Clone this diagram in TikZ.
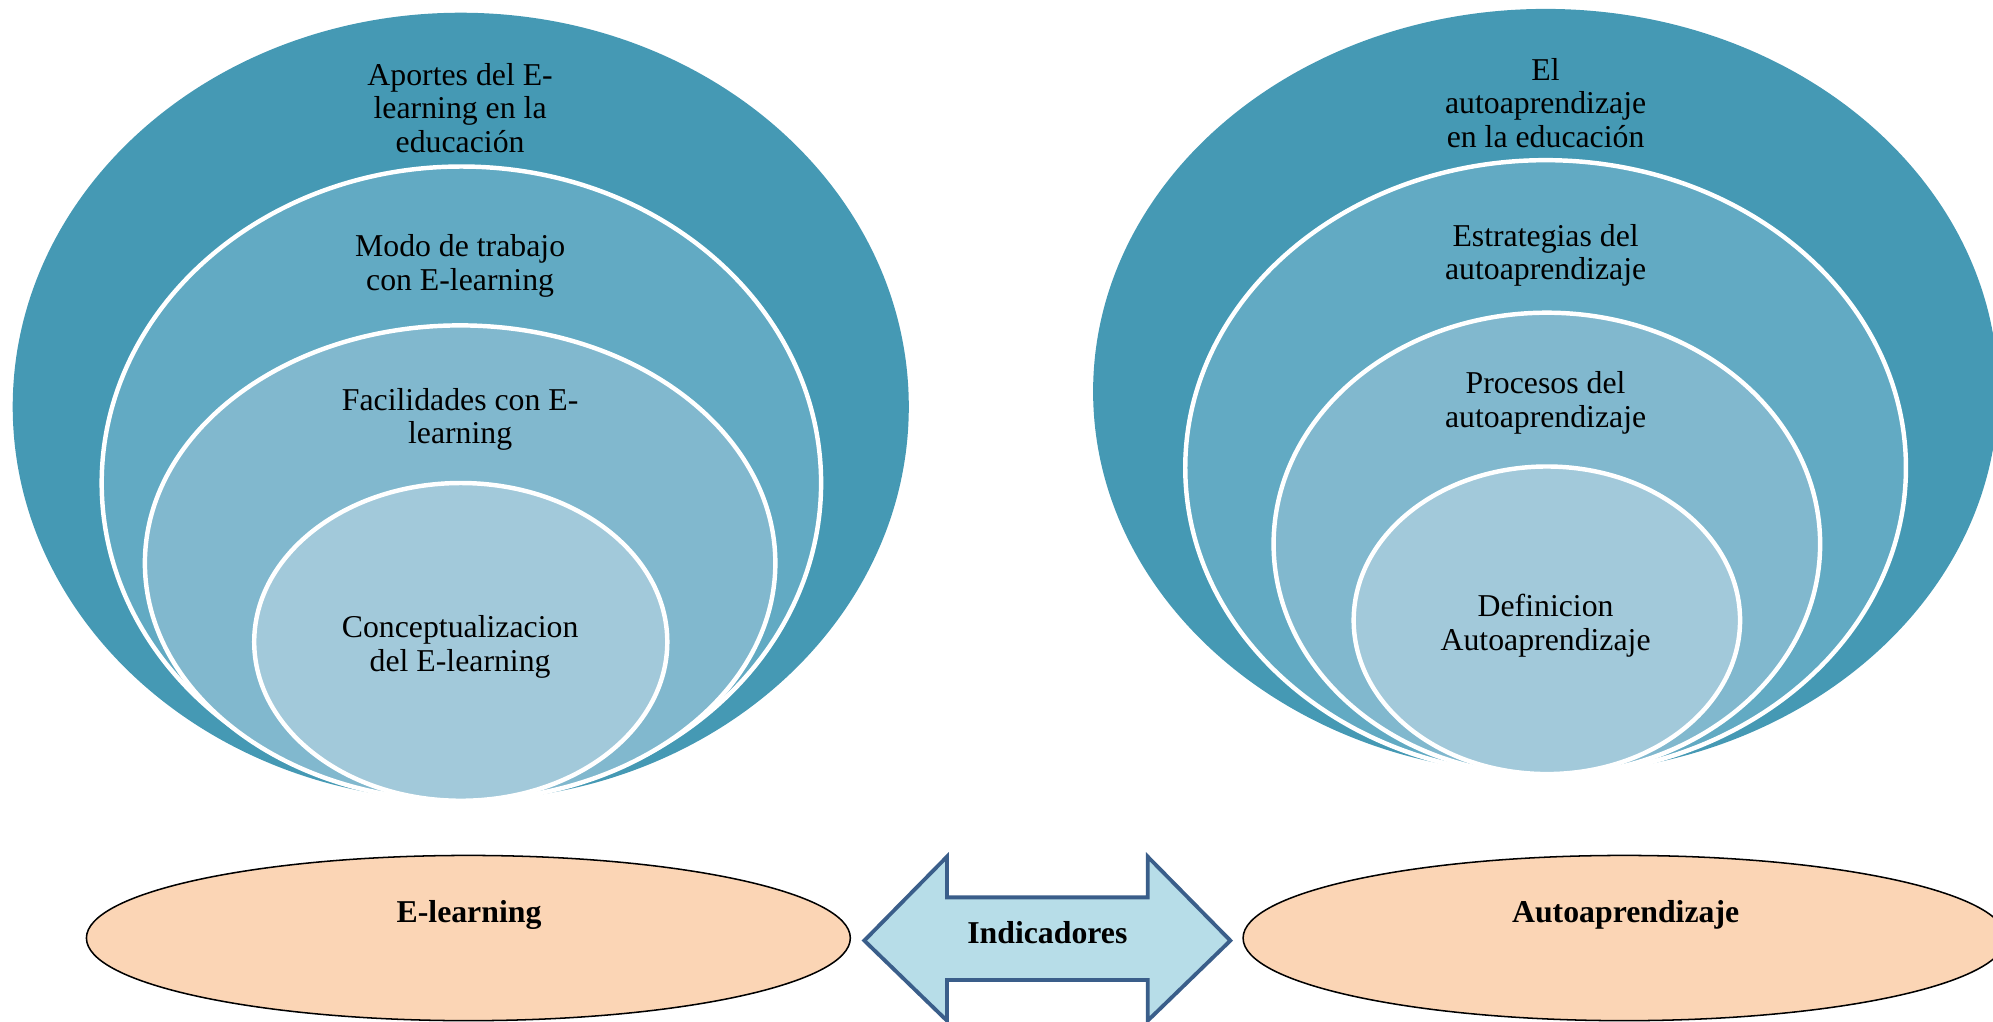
\documentclass[tikz,border=0pt]{standalone}
\usepackage{fontspec}
\setmainfont{Liberation Serif}
\usetikzlibrary{shapes.geometric}
\definecolor{ringA}{RGB}{69,153,180}
\definecolor{ringB}{RGB}{98,170,195}
\definecolor{ringC}{RGB}{129,184,206}
\definecolor{ringD}{RGB}{162,201,218}
\definecolor{peach}{RGB}{251,213,181}
\definecolor{arrowfill}{RGB}{183,221,232}
\definecolor{arrowline}{RGB}{58,94,138}
\tikzset{
  ring/.style={ellipse, inner sep=0pt, draw=white, line width=3.5pt},
  lbl/.style={align=center, font=\fontsize{25}{26.5}\selectfont, text=black, inner sep=0pt},
  blbl/.style={align=center, font=\fontsize{25}{26.5}\selectfont\bfseries, text=black, inner sep=0pt},
  base/.style={ellipse, inner sep=0pt, draw=black, line width=1.2pt, fill=peach}
}
\begin{document}
\begin{tikzpicture}[x=1pt,y=-1pt]
\useasboundingbox (0,0) rectangle (1568,804);
% left group
\node[ring, draw=none, fill=ringA, minimum width=705, minimum height=620] (la) at (362.5,320) {};
\node[ring, fill=ringB, minimum width=566, minimum height=498] (lb) at (363,380) {};
\node[ring, fill=ringC, minimum width=496, minimum height=374] (lc) at (362,443) {};
\node[ring, fill=ringD, minimum width=325, minimum height=250] (ld) at (362.5,505) {};
\node[lbl] (tla) at (362,85) {Aportes del E-\\learning en la\\educación};
\node[lbl] (tlb) at (362,209) {Modo de trabajo\\con E-learning};
\node[lbl] (tlc) at (362,330) {Facilidades con E-\\learning};
\node[lbl] (tld) at (362,509) {Conceptualizacion\\del E-learning};
% right group
\node[ring, draw=none, fill=ringA, minimum width=712, minimum height=602] (ra) at (1216,308) {};
\node[ring, fill=ringB, minimum width=567, minimum height=484] (rb) at (1216,368) {};
\node[ring, fill=ringC, minimum width=430, minimum height=364] (rc) at (1217,428) {};
\node[ring, fill=ringD, minimum width=304, minimum height=242] (rd) at (1217,488) {};
\node[lbl] (tra) at (1216,81) {El\\autoaprendizaje\\en la educación};
\node[lbl] (trb) at (1216,201) {Estrategias del\\autoaprendizaje};
\node[lbl] (trc) at (1216,317) {Procesos del\\autoaprendizaje};
\node[lbl] (trd) at (1216,492) {Definicion\\Autoaprendizaje};
% bottom
\node[base, minimum width=601, minimum height=130] (be) at (368.5,738) {};
\node[base, minimum width=600, minimum height=130] (bau) at (1278,738) {};
\node[blbl] (tbe) at (369,720) {E-learning};
\node[blbl] (tbau) at (1279,720) {Autoaprendizaje};
\draw[fill=arrowfill, draw=arrowline, line width=3pt, line join=miter]
  (680,740) -- (745,674) -- (745,706) -- (903,706) -- (903,674) -- (968,740)
  -- (903,803) -- (903,771) -- (745,771) -- (745,803) -- cycle;
\node[blbl] (tind) at (824,734) {Indicadores};
\end{tikzpicture}
\end{document}
